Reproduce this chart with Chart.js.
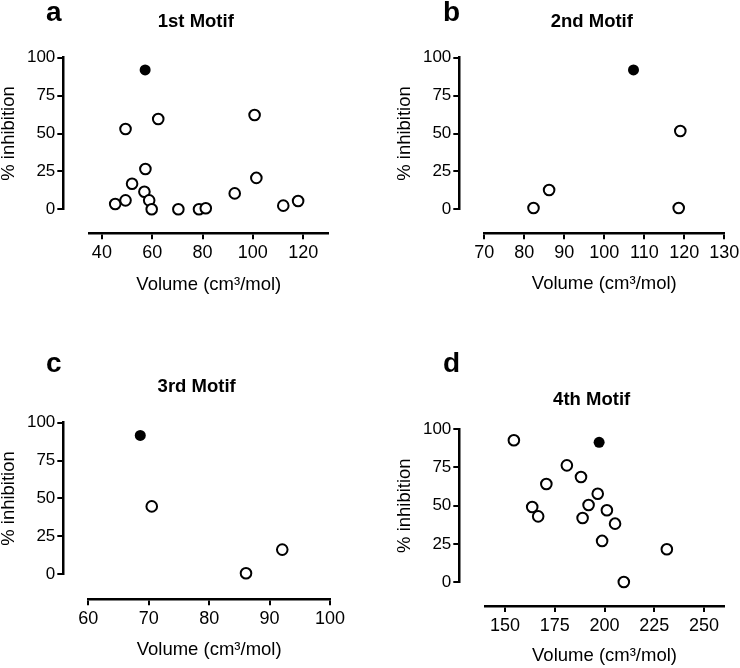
<!DOCTYPE html>
<html>
<head>
<meta charset="utf-8">
<script src="https://cdn.jsdelivr.net/npm/chart.js@4.4.0/dist/chart.umd.min.js"></script>
<style>
  html, body { margin: 0; padding: 0; background: #fff; overflow: hidden; }
  #page { position: relative; width: 740px; height: 668px; overflow: hidden; background: #fff; }
  #page canvas { position: absolute; }
  .letter { position: absolute; font: bold 28px "Liberation Sans", Arial, Helvetica, sans-serif; line-height: 28px; color: #000; }
</style>
</head>
<body>
<div id="page">
  <canvas id="chartA"></canvas>
  <canvas id="chartB"></canvas>
  <canvas id="chartC"></canvas>
  <canvas id="chartD"></canvas>
  <span class="letter" style="left:46px;top:-2px">a</span>
  <span class="letter" style="left:443px;top:-2px">b</span>
  <span class="letter" style="left:46px;top:349px">c</span>
  <span class="letter" style="left:443px;top:349px">d</span>
</div>
<script>
// data: volume (cm3/mol) vs % inhibition
const inhibitionTicks = [0, 25, 50, 75, 100];

// 1st motif
const aVolumeTicks = [40, 60, 80, 100, 120];
const aVolume = [49.4, 62.4, 100.7, 57.3, 52.0, 56.9, 45.3, 49.4, 58.8, 59.8, 70.4, 78.6, 81.3, 92.8, 101.4, 112.1, 118.0];
const aInhibition = [53.0, 59.6, 62.2, 26.6, 16.9, 11.6, 3.5, 5.9, 5.9, 0, 0, 0, 0.7, 10.5, 20.7, 2.4, 5.5];
const aBestVolume = [57.2];
const aBestInhibition = [91.9];

// 2nd motif
const bVolumeTicks = [70, 80, 90, 100, 110, 120, 130];
const bVolume = [82.3, 86.2, 119.0, 118.6];
const bInhibition = [0.9, 12.7, 51.6, 0.9];
const bBestVolume = [107.3];
const bBestInhibition = [91.9];

// 3rd motif
const cVolumeTicks = [60, 70, 80, 90, 100];
const cVolume = [70.5, 86.1, 92.1];
const cInhibition = [44.8, 0.7, 16.3];
const cBestVolume = [68.6];
const cBestInhibition = [91.6];

// 4th motif
const dVolumeTicks = [150, 175, 200, 225, 250];
const dVolume = [154.5, 181.1, 188.2, 170.8, 196.6, 192.0, 163.7, 201.2, 166.7, 189.0, 205.3, 198.8, 231.3, 209.7];
const dInhibition = [92.8, 76.4, 68.8, 64.2, 57.8, 50.4, 49.1, 47.0, 43.0, 41.9, 38.2, 26.9, 21.4, 0];
const dBestVolume = [197.3];
const dBestInhibition = [91.5];

Chart.defaults.font.family = '"Liberation Sans", Arial, Helvetica, sans-serif';
Chart.defaults.color = '#000';

// where each panel sits on the page (pixels)
const panels = [
  { id: 'chartA', title: '1st Motif', vol: aVolume, inh: aInhibition, bestVol: aBestVolume, bestInh: aBestInhibition,
    xMin: 35, xMax: 130, xTicks: aVolumeTicks,
    canvasLeft: -10, canvasTop: 0, axisX: 63.3, yTop: 57.7, yZero: 209.3, xAxisY: 233.3, xStart: 89.3, xEnd: 328.3, titleY: 22.3, xTitleY: 285 },
  { id: 'chartB', title: '2nd Motif', vol: bVolume, inh: bInhibition, bestVol: bBestVolume, bestInh: bBestInhibition,
    xMin: 70, xMax: 130, xTicks: bVolumeTicks,
    canvasLeft: 380, canvasTop: 0, axisX: 459.3, yTop: 57.7, yZero: 209.3, xAxisY: 233.3, xStart: 484.3, xEnd: 724.3, titleY: 22, xTitleY: 284 },
  { id: 'chartC', title: '3rd Motif', vol: cVolume, inh: cInhibition, bestVol: cBestVolume, bestInh: cBestInhibition,
    xMin: 60, xMax: 100, xTicks: cVolumeTicks,
    canvasLeft: -10, canvasTop: 330, axisX: 63.3, yTop: 422.7, yZero: 574.3, xAxisY: 599.3, xStart: 88.3, xEnd: 330, titleY: 386.7, xTitleY: 650 },
  { id: 'chartD', title: '4th Motif', vol: dVolume, inh: dInhibition, bestVol: dBestVolume, bestInh: dBestInhibition,
    xMin: 140, xMax: 260, xTicks: dVolumeTicks,
    canvasLeft: 380, canvasTop: 330, axisX: 459.3, yTop: 429.3, yZero: 582, xAxisY: 606, xStart: 485, xEnd: 724, titleY: 400, xTitleY: 655.5 }
];

function toPoints(xs, ys) {
  return xs.map((x, i) => ({ x: x, y: ys[i] }));
}

function drawPanel(p) {
  const canvas = document.getElementById(p.id);
  const titleSize = 18.5;
  const titleLh = titleSize * 1.2;
  const axisTitleSize = 18.5;
  const axisLh = axisTitleSize * 1.2;
  const yWidth = 65.5;
  const xHeight = p.xTitleY - p.xAxisY + axisLh / 2;

  const left = p.canvasLeft, top = p.canvasTop;
  const width = Math.ceil(p.xEnd + 30 - left);
  const height = Math.ceil(p.xAxisY + xHeight - top) + 2;
  canvas.width = width;
  canvas.height = height;
  canvas.style.left = left + 'px';
  canvas.style.top = top + 'px';
  canvas.style.width = width + 'px';
  canvas.style.height = height + 'px';

  const axisGrid = { drawOnChartArea: false, tickLength: 6, lineWidth: 2, color: '#000' };
  const axisBorder = { width: 2.5, color: '#000' };

  new Chart(canvas, {
    type: 'scatter',
    data: {
      datasets: [
        {
          label: 'analogues',
          data: toPoints(p.vol, p.inh),
          xAxisID: 'x',
          yAxisID: 'y',
          pointRadius: 5.3,
          pointBorderWidth: 2,
          pointBackgroundColor: '#fff',
          pointBorderColor: '#000',
          clip: false
        },
        {
          label: 'lead',
          data: toPoints(p.bestVol, p.bestInh),
          xAxisID: 'x',
          yAxisID: 'y',
          pointRadius: 5.5,
          pointBorderWidth: 0,
          pointBackgroundColor: '#000',
          pointBorderColor: '#000',
          clip: false
        }
      ]
    },
    options: {
      responsive: false,
      animation: false,
      devicePixelRatio: 1,
      layout: {
        padding: {
          left: p.axisX - yWidth - left,
          top: 0,
          right: left + width - p.xEnd,
          bottom: top + height - p.xAxisY - xHeight
        }
      },
      plugins: {
        legend: { display: false },
        tooltip: { enabled: false },
        title: {
          display: true,
          text: p.title,
          fullSize: false,
          color: '#000',
          font: { size: titleSize, weight: 'bold', lineHeight: 1.2 },
          padding: { top: p.titleY - top - titleLh / 2, bottom: p.yTop - p.titleY - titleLh / 2 }
        }
      },
      scales: {
        // empty gap left of the x axis
        xPad: {
          type: 'linear', position: 'bottom', stack: 'xs', weight: 1,
          stackWeight: p.xStart - p.axisX,
          ticks: { display: false }, grid: { display: false }, border: { display: false },
          afterFit: s => { s.height = xHeight; }
        },
        x: {
          type: 'linear', position: 'bottom', stack: 'xs', weight: 2,
          stackWeight: p.xEnd - p.xStart,
          min: p.xMin, max: p.xMax,
          afterBuildTicks: s => { s.ticks = p.xTicks.map(v => ({ value: v })); },
          ticks: { autoSkip: false, maxRotation: 0, padding: 3, font: { size: 18 } },
          grid: axisGrid,
          border: axisBorder,
          title: { display: true, text: 'Volume (cm³/mol)', font: { size: axisTitleSize }, padding: 0 },
          afterFit: s => { s.height = xHeight; }
        },
        y: {
          type: 'linear', position: 'left', stack: 'ys', weight: 2,
          stackWeight: p.yZero - p.yTop,
          min: 0, max: 100,
          afterBuildTicks: s => { s.ticks = inhibitionTicks.map(v => ({ value: v })); },
          ticks: { padding: 2, font: { size: 17 } },
          grid: axisGrid,
          border: axisBorder,
          title: { display: true, text: '% inhibition', font: { size: axisTitleSize }, padding: 0 },
          afterFit: s => { s.width = yWidth; }
        },
        // empty gap below the y axis
        yPad: {
          type: 'linear', position: 'left', stack: 'ys', weight: 1,
          stackWeight: p.xAxisY - p.yZero,
          ticks: { display: false }, grid: { display: false }, border: { display: false },
          afterFit: s => { s.width = yWidth; }
        }
      }
    }
  });
}

panels.forEach(drawPanel);
</script>
</body>
</html>
